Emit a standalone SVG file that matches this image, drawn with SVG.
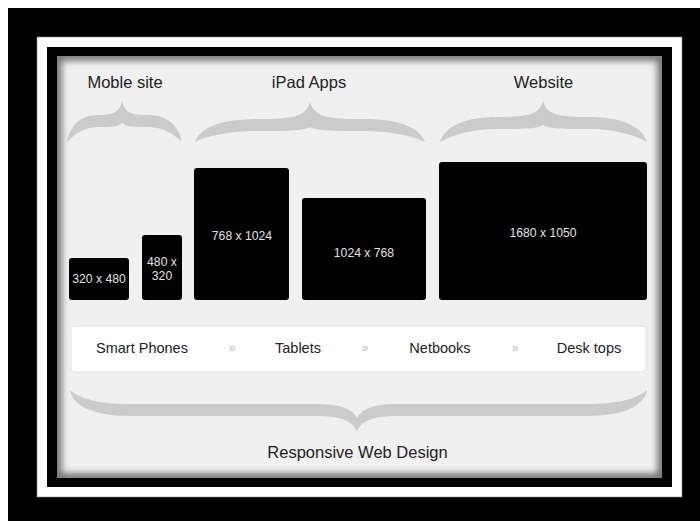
<svg xmlns="http://www.w3.org/2000/svg" width="700" height="521" viewBox="0 0 700 521">
  <defs>
    <style>
      .title { font-family: "Liberation Sans", Arial, sans-serif; font-size: 16.5px; fill: #222; text-anchor: middle; }
      .dev { font-family: "Liberation Sans", Arial, sans-serif; font-size: 14.5px; fill: #222; text-anchor: middle; }
      .sep { font-family: "Liberation Sans", Arial, sans-serif; font-size: 12px; fill: #bbb; text-anchor: middle; }
      .size { font-family: "Liberation Sans", Arial, sans-serif; font-size: 12.2px; fill: #e2e2e2; text-anchor: middle; }
      .screen { fill: #000; }
      .brace { fill: #cbcbcb; }
    </style>
    <clipPath id="panelClip">
      <rect x="57" y="56" width="605" height="422"/>
    </clipPath>
    <filter id="soft" x="-10%" y="-10%" width="120%" height="120%">
      <feGaussianBlur stdDeviation="3.5"/>
    </filter>
  </defs>

  <!-- frame -->
  <rect x="0" y="0" width="700" height="521" fill="#fff"/>
  <rect x="8" y="8" width="692" height="513" fill="#000"/>
  <rect x="37" y="37" width="645" height="460" fill="#fff" stroke="#888" stroke-width="0.6"/>
  <rect x="47" y="47" width="625" height="440" fill="#000"/>

  <!-- panel with inner shadow -->
  <rect x="57" y="56" width="605" height="422" fill="#f0f0f0"/>
  <g clip-path="url(#panelClip)">
    <rect x="57" y="56" width="605" height="422" fill="none" stroke="#000" stroke-width="9" opacity="0.55" filter="url(#soft)"/>
  </g>

  <!-- group titles -->
  <g id="title-mobile"><text class="title" x="125" y="88">Moble site</text></g>
  <g id="title-ipad"><text class="title" x="309" y="88">iPad Apps</text></g>
  <g id="title-website"><text class="title" x="543.5" y="88">Website</text></g>

  <!-- braces -->
  <g id="braces">
    <path class="brace" d="M 67,142 C 69.75,126 80.75,115 97.25,115 C 113.75,115 119.8,113 122,100 C 124.4,113 131,115 149,115 C 167,115 179,126 182,142 C 176,136 164,127 149,127 C 134,127 125.6,127 122,123 C 118.7,127 111,127 97.25,127 C 83.5,127 72.5,136 67,142 Z"/>
    <path class="brace" d="M 195,142 C 200.75,126 223.75,119 258.25,119 C 292.75,119 305.4,117 310,102 C 314.6,117 327.25,119 361.75,119 C 396.25,119 419.25,126 425,142 C 413.5,136 390.5,131 361.75,131 C 333,131 316.9,131 310,127 C 303.1,131 287,131 258.25,131 C 229.5,131 206.5,136 195,142 Z"/>
    <path class="brace" d="M 440,142 C 445.15,126 465.75,117 496.65,117 C 527.55,117 538.9,115 543,101 C 547.2,115 558.6,117 589.8,117 C 621,117 641.8,126 647,142 C 636.6,136 615.8,129 589.8,129 C 563.8,129 549.2,129 543,125 C 536.8,129 522.4,129 496.65,129 C 470.9,129 450.3,136 440,142 Z"/>
    <path class="brace" d="M 70,390 C 72,404 90,416 130,416 L 315,416 C 340,416 353,420 357,432 C 361,420 374,416 399,416 L 587,416 C 627,416 645,404 647,390 C 638,398 620,404 587,404 L 399,404 C 375,404 362,408 357,418 C 352,408 339,404 315,404 L 130,404 C 97,404 79,398 70,390 Z"/>
  </g>

  <!-- screens -->
  <g id="screen-320x480">
    <rect class="screen" x="69" y="258" width="60" height="42" rx="3"/>
    <text class="size" x="99" y="283">320 x 480</text>
  </g>
  <g id="screen-480x320">
    <rect class="screen" x="142" y="235" width="40" height="65" rx="3"/>
    <text class="size" x="162" y="266">480 x</text>
    <text class="size" x="162" y="280">320</text>
  </g>
  <g id="screen-768x1024">
    <rect class="screen" x="194" y="168" width="95" height="132" rx="3"/>
    <text class="size" x="242" y="240">768 x 1024</text>
  </g>
  <g id="screen-1024x768">
    <rect class="screen" x="302" y="198" width="124" height="102" rx="3"/>
    <text class="size" x="364" y="257">1024 x 768</text>
  </g>
  <g id="screen-1680x1050">
    <rect class="screen" x="439" y="162" width="208" height="138" rx="3"/>
    <text class="size" x="543" y="237">1680 x 1050</text>
  </g>

  <!-- device strip -->
  <g id="devices">
    <rect x="71" y="326" width="575" height="46" rx="4" fill="#fff" stroke="#e2e2e2" stroke-width="1"/>
    <text class="dev" x="142" y="353">Smart Phones</text>
    <text class="sep" x="232" y="352">»</text>
    <text class="dev" x="298" y="353">Tablets</text>
    <text class="sep" x="365" y="352">»</text>
    <text class="dev" x="440" y="353">Netbooks</text>
    <text class="sep" x="515" y="352">»</text>
    <text class="dev" x="589" y="353">Desk tops</text>
  </g>

  <g id="title-responsive"><text class="title" x="357.5" y="458">Responsive Web Design</text></g>
</svg>
